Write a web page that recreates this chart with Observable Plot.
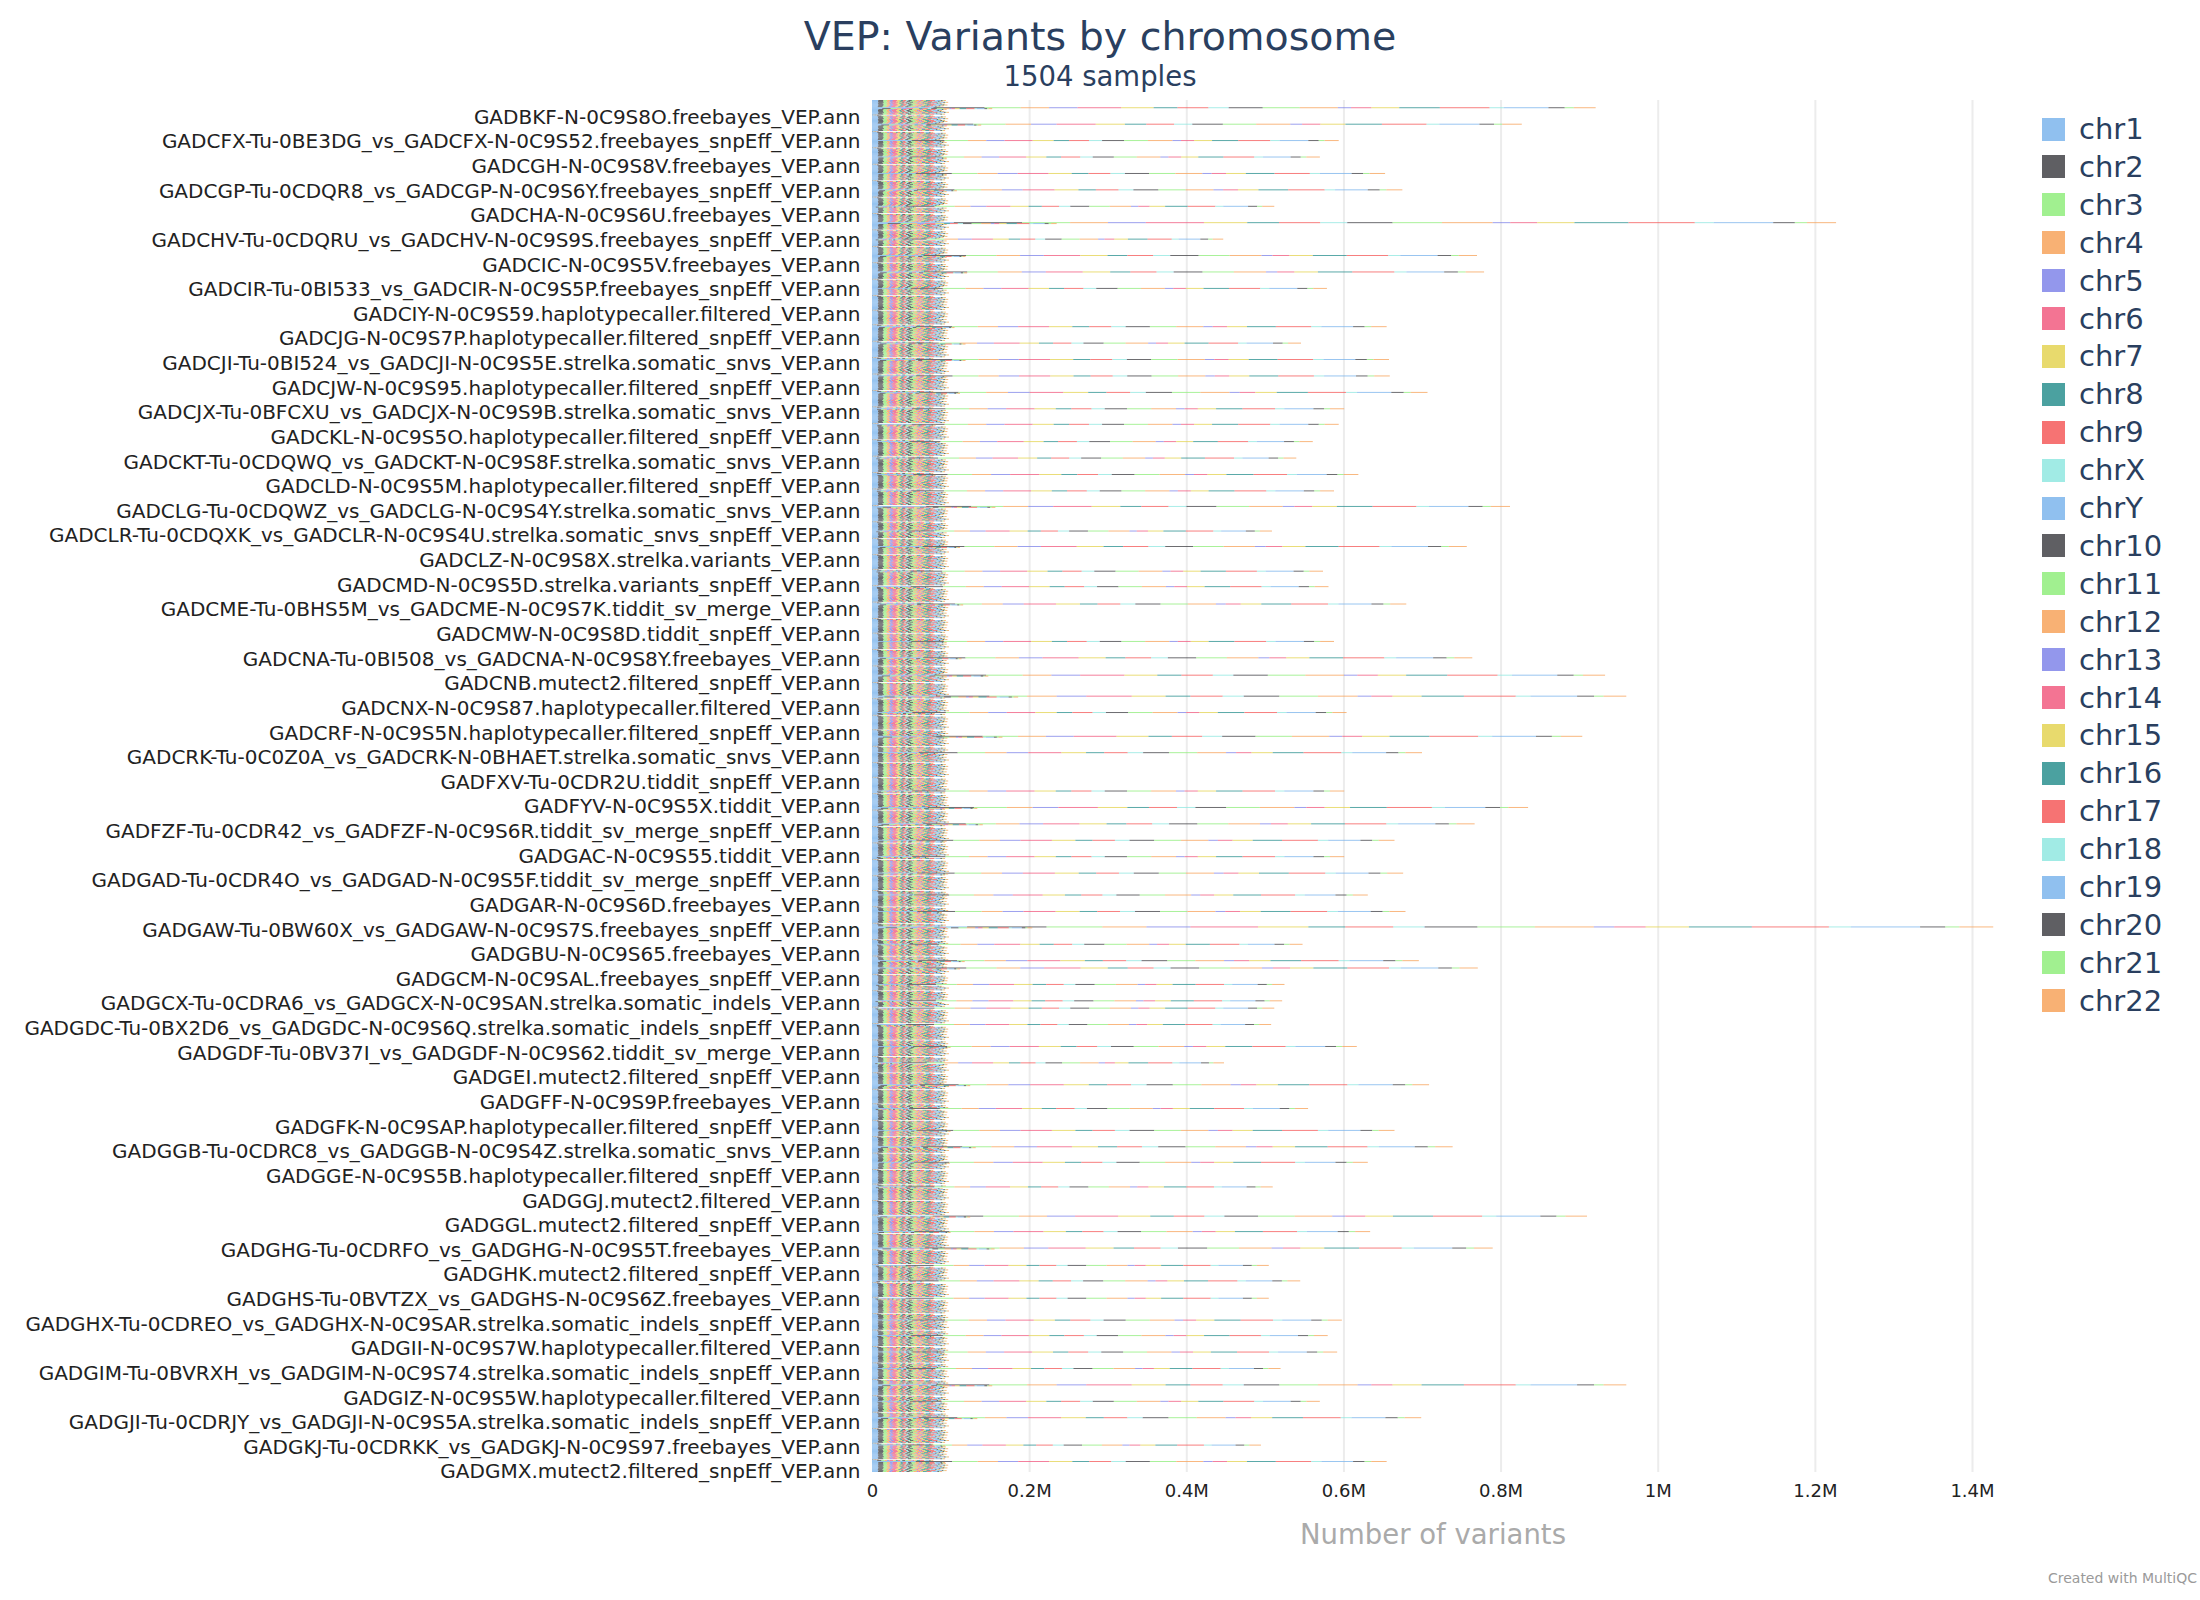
<!DOCTYPE html>
<html>
<head>
<meta charset="utf-8">
<script src="https://cdn.jsdelivr.net/npm/d3@7"></script>
<script src="https://cdn.jsdelivr.net/npm/@observablehq/plot@0.6"></script>
<style>
  html, body { margin: 0; padding: 0; background: #fff; }
  #page { position: relative; width: 2200px; height: 1600px; font-family: "DejaVu Sans", sans-serif; overflow: hidden; }
  #title { position: absolute; left: 0; width: 2200px; top: 13px; text-align: center; font-size: 39.5px; color: #2a3f5f; line-height: 46px; }
  #subtitle { position: absolute; left: 0; width: 2200px; top: 60px; text-align: center; font-size: 27.5px; color: #2a3f5f; line-height: 32px; }
  #chart { position: absolute; left: 0; top: 90px; }
  #xlabel { position: absolute; left: 1133px; width: 600px; top: 1514px; text-align: center; font-size: 27.5px; color: #aaaaaa; line-height: 40px; }
  #legend { position: absolute; left: 2042px; top: 110px; }
  .item { position: absolute; left: 0; height: 38px; display: flex; align-items: center; white-space: nowrap; }
  .sw { width: 23px; height: 23px; margin-right: 14px; }
  .lt { font-size: 29px; color: #2a3f5f; line-height: 34px; }
  #caption { position: absolute; right: 3px; top: 1570px; font-size: 14px; color: #9a9a9a; }
</style>
</head>
<body>
<div id="page">
  <div id="title">VEP: Variants by chromosome</div>
  <div id="subtitle">1504 samples</div>
  <div id="chart"></div>
  <div id="xlabel">Number of variants</div>
  <div id="legend"></div>
  <div id="caption">Created with MultiQC</div>
</div>
<script>
// ---------------- data ----------------
const sampleCount = 1504;

const chromosomes = ["chr1","chr2","chr3","chr4","chr5","chr6","chr7","chr8","chr9","chrX","chrY",
  "chr10","chr11","chr12","chr13","chr14","chr15","chr16","chr17","chr18","chr19","chr20","chr21","chr22"];

const chromColors = ["#7cb5ec","#434348","#90ed7d","#f7a35c","#8085e9","#f15c80","#e4d354","#2b908f","#f45b5b","#91e8e1",
  "#7cb5ec","#434348","#90ed7d","#f7a35c","#8085e9","#f15c80","#e4d354","#2b908f","#f45b5b","#91e8e1","#7cb5ec","#434348","#90ed7d","#f7a35c"];

// variants per chromosome (thousands); used as the per-chromosome share
const chromShare = [121,101,71,56,56,86,64,47,61,39,1,67,73,75,26,40,55,80,98,28,88,32,18,43];

// visible y tick labels (every 27th sample, starting with sample 19)
const tickLabels = [
"GADBKF-N-0C9S8O.freebayes_VEP.ann",
"GADCFX-Tu-0BE3DG_vs_GADCFX-N-0C9S52.freebayes_snpEff_VEP.ann",
"GADCGH-N-0C9S8V.freebayes_VEP.ann",
"GADCGP-Tu-0CDQR8_vs_GADCGP-N-0C9S6Y.freebayes_snpEff_VEP.ann",
"GADCHA-N-0C9S6U.freebayes_VEP.ann",
"GADCHV-Tu-0CDQRU_vs_GADCHV-N-0C9S9S.freebayes_snpEff_VEP.ann",
"GADCIC-N-0C9S5V.freebayes_VEP.ann",
"GADCIR-Tu-0BI533_vs_GADCIR-N-0C9S5P.freebayes_snpEff_VEP.ann",
"GADCIY-N-0C9S59.haplotypecaller.filtered_VEP.ann",
"GADCJG-N-0C9S7P.haplotypecaller.filtered_snpEff_VEP.ann",
"GADCJI-Tu-0BI524_vs_GADCJI-N-0C9S5E.strelka.somatic_snvs_VEP.ann",
"GADCJW-N-0C9S95.haplotypecaller.filtered_snpEff_VEP.ann",
"GADCJX-Tu-0BFCXU_vs_GADCJX-N-0C9S9B.strelka.somatic_snvs_VEP.ann",
"GADCKL-N-0C9S5O.haplotypecaller.filtered_snpEff_VEP.ann",
"GADCKT-Tu-0CDQWQ_vs_GADCKT-N-0C9S8F.strelka.somatic_snvs_VEP.ann",
"GADCLD-N-0C9S5M.haplotypecaller.filtered_snpEff_VEP.ann",
"GADCLG-Tu-0CDQWZ_vs_GADCLG-N-0C9S4Y.strelka.somatic_snvs_VEP.ann",
"GADCLR-Tu-0CDQXK_vs_GADCLR-N-0C9S4U.strelka.somatic_snvs_snpEff_VEP.ann",
"GADCLZ-N-0C9S8X.strelka.variants_VEP.ann",
"GADCMD-N-0C9S5D.strelka.variants_snpEff_VEP.ann",
"GADCME-Tu-0BHS5M_vs_GADCME-N-0C9S7K.tiddit_sv_merge_VEP.ann",
"GADCMW-N-0C9S8D.tiddit_snpEff_VEP.ann",
"GADCNA-Tu-0BI508_vs_GADCNA-N-0C9S8Y.freebayes_VEP.ann",
"GADCNB.mutect2.filtered_snpEff_VEP.ann",
"GADCNX-N-0C9S87.haplotypecaller.filtered_VEP.ann",
"GADCRF-N-0C9S5N.haplotypecaller.filtered_snpEff_VEP.ann",
"GADCRK-Tu-0C0Z0A_vs_GADCRK-N-0BHAET.strelka.somatic_snvs_VEP.ann",
"GADFXV-Tu-0CDR2U.tiddit_snpEff_VEP.ann",
"GADFYV-N-0C9S5X.tiddit_VEP.ann",
"GADFZF-Tu-0CDR42_vs_GADFZF-N-0C9S6R.tiddit_sv_merge_snpEff_VEP.ann",
"GADGAC-N-0C9S55.tiddit_VEP.ann",
"GADGAD-Tu-0CDR4O_vs_GADGAD-N-0C9S5F.tiddit_sv_merge_snpEff_VEP.ann",
"GADGAR-N-0C9S6D.freebayes_VEP.ann",
"GADGAW-Tu-0BW60X_vs_GADGAW-N-0C9S7S.freebayes_snpEff_VEP.ann",
"GADGBU-N-0C9S65.freebayes_VEP.ann",
"GADGCM-N-0C9SAL.freebayes_snpEff_VEP.ann",
"GADGCX-Tu-0CDRA6_vs_GADGCX-N-0C9SAN.strelka.somatic_indels_VEP.ann",
"GADGDC-Tu-0BX2D6_vs_GADGDC-N-0C9S6Q.strelka.somatic_indels_snpEff_VEP.ann",
"GADGDF-Tu-0BV37I_vs_GADGDF-N-0C9S62.tiddit_sv_merge_VEP.ann",
"GADGEI.mutect2.filtered_snpEff_VEP.ann",
"GADGFF-N-0C9S9P.freebayes_VEP.ann",
"GADGFK-N-0C9SAP.haplotypecaller.filtered_snpEff_VEP.ann",
"GADGGB-Tu-0CDRC8_vs_GADGGB-N-0C9S4Z.strelka.somatic_snvs_VEP.ann",
"GADGGE-N-0C9S5B.haplotypecaller.filtered_snpEff_VEP.ann",
"GADGGJ.mutect2.filtered_VEP.ann",
"GADGGL.mutect2.filtered_snpEff_VEP.ann",
"GADGHG-Tu-0CDRFO_vs_GADGHG-N-0C9S5T.freebayes_VEP.ann",
"GADGHK.mutect2.filtered_snpEff_VEP.ann",
"GADGHS-Tu-0BVTZX_vs_GADGHS-N-0C9S6Z.freebayes_VEP.ann",
"GADGHX-Tu-0CDREO_vs_GADGHX-N-0C9SAR.strelka.somatic_indels_snpEff_VEP.ann",
"GADGII-N-0C9S7W.haplotypecaller.filtered_VEP.ann",
"GADGIM-Tu-0BVRXH_vs_GADGIM-N-0C9S74.strelka.somatic_indels_snpEff_VEP.ann",
"GADGIZ-N-0C9S5W.haplotypecaller.filtered_VEP.ann",
"GADGJI-Tu-0CDRJY_vs_GADGJI-N-0C9S5A.strelka.somatic_indels_snpEff_VEP.ann",
"GADGKJ-Tu-0CDRKK_vs_GADGKJ-N-0C9S97.freebayes_VEP.ann",
"GADGMX.mutect2.filtered_snpEff_VEP.ann"
];
const firstTickSample = 18;
const tickEvery = 27;

// large (whole-genome) samples: sample position (0-based) and total variants (millions)
const largeSample = [8,26,44,62,80,98,116,134,152,170,188,206,248,266,284,
  302,320,338,355,374,392,410,428,445,472,489,516,533,552,593,
  611,630,653,671,697,715,757,775,793,811,829,847,871,889,
  906,925,943,951,969,987,995,1013,1037,1055,1079,1105,1129,1147,1164,1191,
  1223,1240,1258,1277,1294,1313,1337,1354,1372,1390,1408,1426,1444,1474,1492];
const largeTotal = [0.921,0.827,0.594,0.570,0.653,0.675,0.512,1.227,0.447,0.770,0.779,0.579,0.655,0.546,0.658,
  0.659,0.707,0.601,0.594,0.561,0.540,0.619,0.588,0.812,0.509,0.757,0.574,0.581,0.680,0.588,
  0.764,0.933,0.960,0.604,0.904,0.700,0.601,0.835,0.767,0.665,0.601,0.676,0.631,0.679,
  1.427,0.548,0.696,0.771,0.525,0.522,0.512,0.508,0.617,0.448,0.709,0.555,0.665,0.739,0.631,0.510,
  0.910,0.634,0.790,0.505,0.545,0.505,0.598,0.580,0.592,0.520,0.960,0.570,0.699,0.495,0.655];
// the sample directly after each large one (millions)
const followTotal = [0.153,0.139,0.092,0.095,0.095,0.108,0.056,0.235,0.055,0.119,0.121,0.084,0.105,0.119,0.119,
  0.096,0.112,0.076,0.081,0.086,0.064,0.081,0.072,0.157,0.064,0.112,0.067,0.072,0.116,0.095,
  0.114,0.148,0.186,0.080,0.166,0.084,0.075,0.134,0.141,0.095,0.072,0.097,0.095,0.089,
  0.204,0.075,0.118,0.112,0.062,0.051,0.051,0.072,0.100,0.047,0.125,0.054,0.100,0.132,0.099,0.058,
  0.125,0.100,0.156,0.058,0.066,0.051,0.084,0.079,0.088,0.081,0.153,0.081,0.134,0.093,0.093];
// typical totals (thousands) of the many small samples in between, in running order
const smallTotal = [94,90,97,88,93,96,91,86,95,89,92,98,87,93,9,78];

// ---------------- table ----------------
const xTicks = [0,200000,400000,600000,800000,1000000,1200000,1400000];
const shareSum = d3.sum(chromShare);
const sampleIds = d3.range(sampleCount).map(i => {
  const k = (i - firstTickSample) / tickEvery;
  return (Number.isInteger(k) && k >= 0 && k < tickLabels.length) ? tickLabels[k] : `sample ${i + 1}`;
});
const largeAt = new Map(largeSample.map((s, k) => [s, k]));
let smallCounter = 0;
const sampleTotal = d3.range(sampleCount).map(i => {
  if (largeAt.has(i)) return largeTotal[largeAt.get(i)] * 1e6;
  if (largeAt.has(i - 1)) return followTotal[largeAt.get(i - 1)] * 1e6;
  return smallTotal[(smallCounter++) % smallTotal.length] * 1e3;
});
const rows = [];
sampleIds.forEach((id, i) => {
  chromosomes.forEach((c, j) => {
    rows.push({sample: id, chrom: c, value: sampleTotal[i] * chromShare[j] / shareSum});
  });
});
const tickIds = tickLabels;

// ---------------- chart ----------------
const chart = Plot.plot({
  width: 2004,
  height: 1462,
  marginLeft: 872,
  marginRight: 10,
  marginTop: 10,
  marginBottom: 80,
  style: {fontFamily: '"DejaVu Sans", sans-serif', background: "transparent", overflow: "visible"},
  x: {domain: [0, 1428000], axis: null},
  y: {domain: sampleIds, padding: 0, axis: null},
  color: {domain: chromosomes, range: chromColors},
  marks: [
    Plot.gridX(xTicks.slice(1), {stroke: "#ececec", strokeWidth: 2, strokeOpacity: 1}),
    Plot.barX(rows, {x: "value", y: "sample", fill: "chrom", order: chromosomes, fillOpacity: 0.85}),
    Plot.axisY(tickIds, {tickSize: 0, tickPadding: 12, fontSize: 20, fill: "#222", label: null}),
    Plot.axisX(xTicks, {tickSize: 0, tickPadding: 12, fontSize: 18, fill: "#222", label: null,
      tickFormat: d => d === 0 ? "0" : (d / 1e6) + "M"})
  ]
});
document.getElementById("chart").appendChild(chart);

// ---------------- legend ----------------
const legend = document.getElementById("legend");
chromosomes.forEach((c, j) => {
  const item = document.createElement("div");
  item.className = "item";
  item.style.top = (j * 37.9) + "px";
  const sw = document.createElement("div");
  sw.className = "sw";
  sw.style.background = chromColors[j];
  sw.style.opacity = 0.85;
  const t = document.createElement("span");
  t.className = "lt";
  t.textContent = c;
  item.appendChild(sw); item.appendChild(t);
  legend.appendChild(item);
});
</script>
</body>
</html>
